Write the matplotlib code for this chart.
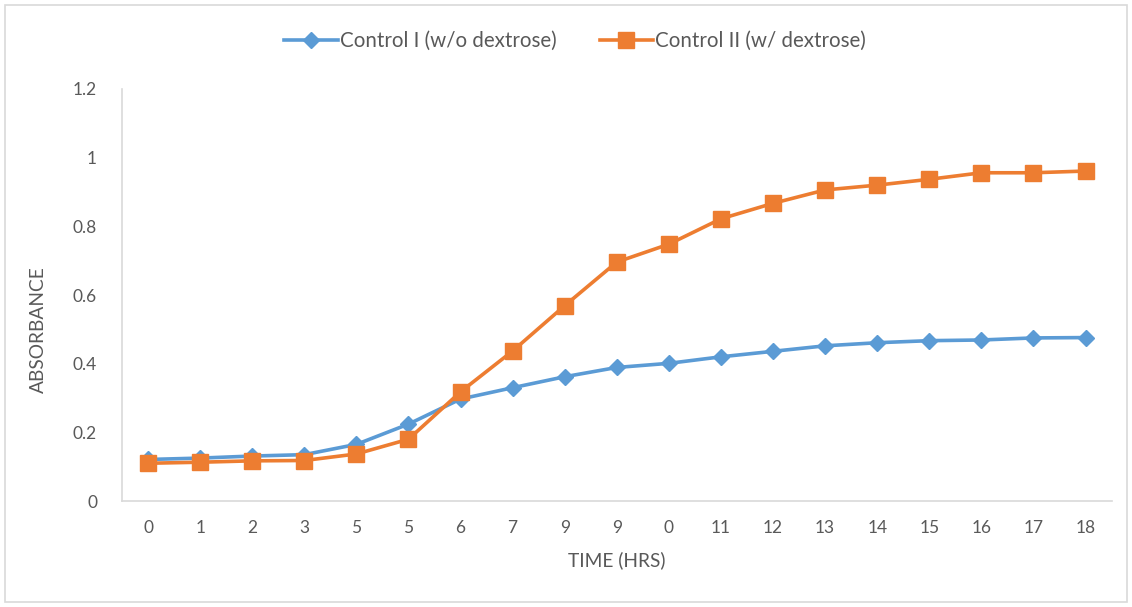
import matplotlib
matplotlib.use("Agg")
import matplotlib.pyplot as plt
from matplotlib.patches import Rectangle

# etiquetas del eje x tal como se registraron
horas = ["0", "1", "2", "3", "5", "5", "6", "7", "9", "9", "0",
         "11", "12", "13", "14", "15", "16", "17", "18"]

control_1 = [0.121, 0.125, 0.131, 0.135, 0.165, 0.224, 0.297, 0.330, 0.362,
             0.389, 0.401, 0.420, 0.436, 0.452, 0.461, 0.467, 0.469, 0.475, 0.476]
control_2 = [0.110, 0.113, 0.117, 0.118, 0.137, 0.180, 0.318, 0.437, 0.569,
             0.696, 0.748, 0.822, 0.867, 0.906, 0.920, 0.937, 0.956, 0.956, 0.961]

azul = "#5B9BD5"
naranja = "#ED7D31"
gris = "#595959"

plt.rcParams["font.family"] = ["Lato", "DejaVu Sans"]

fig = plt.figure(figsize=(11.32, 6.07), dpi=100)
ax = fig.add_axes([0.1078, 0.1746, 0.8742, 0.6788])

x = list(range(len(horas)))
ax.plot(x, control_1, color=azul, lw=2.6, marker="D", ms=8,
        label="Control I (w/o dextrose)")
ax.plot(x, control_2, color=naranja, lw=2.6, marker="s", ms=11,
        label="Control II (w/ dextrose)")

ax.set_xlim(-0.5, len(horas) - 0.5)
ax.set_ylim(0, 1.2)
ax.set_xticks(x)
ax.set_xticklabels(horas)
ax.set_yticks([0, 0.2, 0.4, 0.6, 0.8, 1.0, 1.2])
ax.set_yticklabels(["0", "0.2", "0.4", "0.6", "0.8", "1", "1.2"])
ax.tick_params(length=0, colors=gris, labelsize=12.5)
ax.tick_params(axis="x", pad=14)
ax.tick_params(axis="y", pad=18)

for lado in ["top", "right"]:
    ax.spines[lado].set_visible(False)
for lado in ["left", "bottom"]:
    ax.spines[lado].set_color("#d9d9d9")
    ax.spines[lado].set_linewidth(1.2)

ax.set_xlabel("TIME (HRS)", color=gris, fontsize=13.8, labelpad=11)
ax.set_ylabel("ABSORBANCE", color=gris, fontsize=13.8)
ax.yaxis.set_label_coords(-0.076, 0.415)

fig.legend(loc="center", bbox_to_anchor=(0.508, 0.932), ncol=2, frameon=False,
           fontsize=14.8, labelcolor=gris, handlelength=2.6, columnspacing=2.1,
           handletextpad=0.1)

# marco exterior del grafico
fig.patches.append(Rectangle((0.004, 0.008), 0.992, 0.984, transform=fig.transFigure,
                             fill=False, edgecolor="#d9d9d9", lw=1.2))

fig.savefig("out.png", dpi=100)
